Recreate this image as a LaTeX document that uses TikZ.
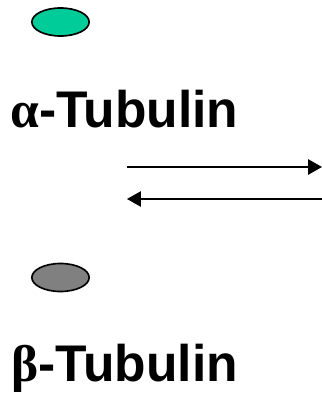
\documentclass[tikz,border=0pt]{standalone}
\usepackage{fontspec}
\setmainfont{Liberation Sans}
\newfontfamily\greekfont{Liberation Serif}
\usetikzlibrary{arrows.meta,positioning,shapes.geometric}
\definecolor{alphagreen}{RGB}{0,204,153}
\definecolor{betagray}{RGB}{128,128,128}
\tikzset{
  subunit/.style = {ellipse,draw=black,line width=1.4pt,
                    minimum width=1.72cm,minimum height=0.84cm,inner sep=0pt},
  label/.style   = {anchor=base west,inner sep=0pt,
                    font=\fontsize{44}{50}\selectfont\bfseries},
  arrow/.style   = {-{Triangle[length=0.42cm,width=0.46cm]},line width=1.6pt},
}
\begin{document}
\begin{tikzpicture}
  \useasboundingbox (0,0) rectangle (9.66,11.88);
  % alpha subunit
  \node[subunit,fill=alphagreen] (alpha) at (1.815,11.22) {};
  \node[label] (alphatext) at (0.3,8.06) {{\greekfont α}-Tubulin};
  % equilibrium arrows
  \coordinate (fwdstart) at (3.81,6.87);
  \coordinate (fwdend)   at (9.66,6.87);
  \coordinate (revstart) at (9.66,5.91);
  \coordinate (revend)   at (3.81,5.91);
  \draw[arrow] (fwdstart) -- (fwdend);
  \draw[arrow] (revstart) -- (revend);
  % beta subunit
  \node[subunit,fill=betagray] (beta) at (1.815,3.555) {};
  \node[label] (betatext) at (0.33,0.42) {{\greekfont β}-Tubulin};
\end{tikzpicture}
\end{document}
